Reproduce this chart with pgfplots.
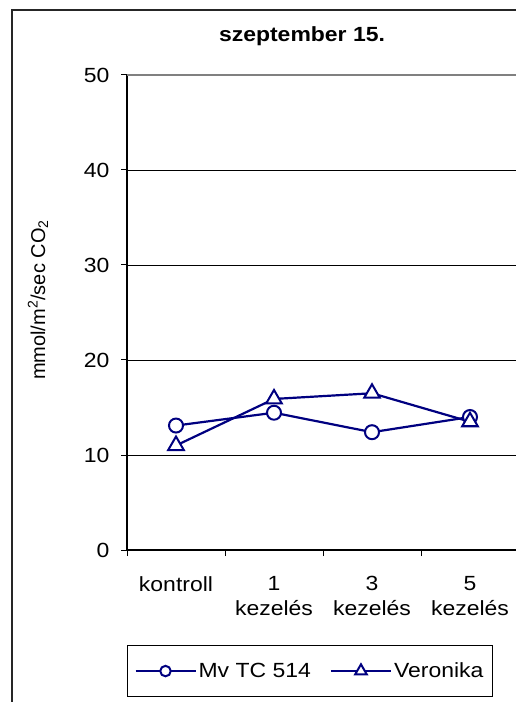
\documentclass[border=0pt]{standalone}
\usepackage{pgfplots}
\pgfplotsset{compat=1.18}
\usepackage{fontspec}
\setmainfont{Liberation Sans}[FakeStretch=1.12]
\newfontfamily\plainfont{Liberation Sans}
\definecolor{navy}{RGB}{0,0,128}
\newcommand\fs{\fontsize{20.5}{25}\selectfont}
\begin{document}
\begin{tikzpicture}[x=1pt,y=1pt]
\clip (0,0) rectangle (516,702);
\draw[black!85, line width=1.2pt] (12,-20) -- (12,692) -- (540,692);
\node[font=\fs\bfseries, anchor=base] at (302,660) {szeptember 15.};
\node[rotate=90, font=\plainfont\fontsize{20}{24}\selectfont] at (38,402) {mmol/m\textsuperscript{2}/sec CO\textsubscript{2}};
\begin{axis}[
  at={(127pt,152pt)}, anchor=south west,
  scale only axis, width=392pt, height=475pt,
  xmin=-0.5, xmax=3.5, ymin=0, ymax=50,
  axis lines=left, axis line style={-, black, line width=1.2pt},
  tick align=outside, major tick length=6pt,
  tick style={black, line width=1pt},
  ytick={0,10,20,30,40,50}, yticklabels={0,10,20,30,40,50},
  yticklabel style={xshift=-8pt},
  ymajorgrids, grid style={black, line width=0.8pt},
  xtick={-0.5,0.5,1.5,2.5,3.5}, xticklabels={},
  extra x ticks={0,1,2,3},
  extra x tick labels={kontroll,{1\\kezelés},{3\\kezelés},{5\\kezelés}},
  extra x tick style={major tick length=0pt, xticklabel style={align=center, yshift=-23pt}},
  tick label style={font=\fs},
  legend style={at={(0,-0.2)}, anchor=north west, draw=black, line width=0.8pt,
    inner xsep=7pt, inner ysep=15.5pt,
    font=\fs, legend columns=2, /tikz/every even column/.append style={column sep=17pt}},
  legend image code/.code={\draw[mark repeat=2, mark phase=2, #1, every mark/.append style={scale=0.75}] plot coordinates {(0pt,0pt)(30pt,0pt)(60pt,0pt)};},
]
\addplot[navy, line width=2.2pt, mark=*, mark size=7pt, mark options={solid, fill=white, line width=2pt}]
  coordinates {(0,13.1)(1,14.45)(2,12.4)(3,14.0)};
\addlegendentry{Mv TC 514}
\addplot[navy, line width=2.2pt, mark=triangle*, mark size=9pt, mark options={solid, fill=white, line width=2pt}]
  coordinates {(0,11.0)(1,15.9)(2,16.5)(3,13.5)};
\addlegendentry{Veronika}
\draw[gray, line width=1.2pt] (axis cs:-0.5,50) -- (axis cs:3.5,50);
\end{axis}
\end{tikzpicture}
\end{document}
